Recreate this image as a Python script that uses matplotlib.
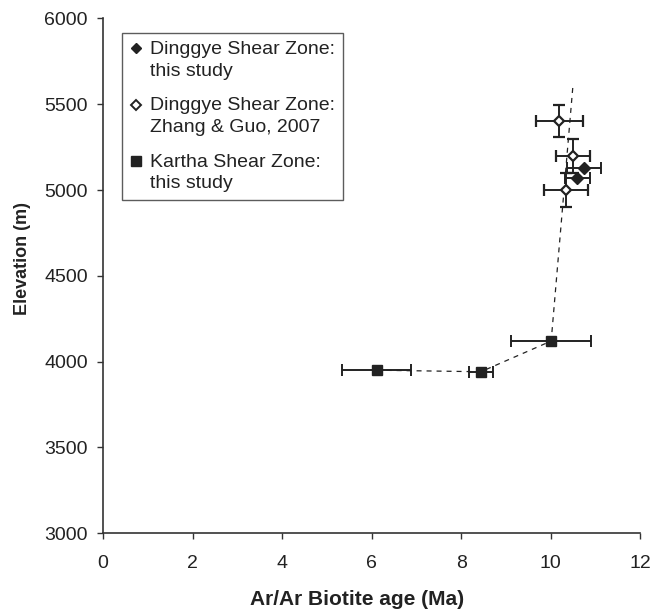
import numpy as np
from matplotlib import pyplot as plt
from matplotlib.lines import Line2D
from matplotlib.legend_handler import HandlerLine2D

plt.rcParams['font.family'] = ['Liberation Sans', 'DejaVu Sans']

# Dinggye Shear Zone, this study
dsz_age = [10.74, 10.59]
dsz_age_err = [0.38, 0.28]
dsz_elev = [5128, 5073]

# Dinggye Shear Zone, Zhang & Guo 2007
zg_age = [10.19, 10.49, 10.34]
zg_age_err = [0.52, 0.38, 0.50]
zg_elev = [5403, 5200, 5000]
zg_elev_err = [95, 100, 100]

# Kartha Shear Zone, this study
ksz_age = [6.11, 8.44, 10.01]
ksz_age_err = [0.78, 0.27, 0.90]
ksz_elev = [3950, 3941, 4120]

# dashed trend line
trend_age = [6.11, 8.44, 10.01, 10.50]
trend_elev = [3950, 3941, 4120, 5620]

dark = '#222222'


class FirstLineHandler(HandlerLine2D):
    # put the legend marker beside the first line of a two-line label
    def create_artists(self, legend, orig_handle, xdescent, ydescent,
                       width, height, fontsize, trans):
        return super().create_artists(legend, orig_handle, xdescent,
                                      ydescent - 1.2 * fontsize, width, height,
                                      fontsize, trans)


fig = plt.figure(figsize=(6.52, 6.15), dpi=100)
ax = fig.add_axes([0.158, 0.133, 0.824, 0.837])

ax.plot(trend_age, trend_elev, color=dark, linestyle=(0, (4, 4)), linewidth=0.9, zorder=1)

ax.errorbar(ksz_age, ksz_elev, xerr=ksz_age_err, fmt='s', color=dark, ms=7,
            ecolor=dark, elinewidth=1.4, capsize=4, capthick=1.4, zorder=3)
ax.errorbar(zg_age, zg_elev, xerr=zg_age_err, yerr=zg_elev_err, fmt='D', ms=5.2,
            markerfacecolor='white', markeredgecolor=dark, markeredgewidth=1.6,
            ecolor=dark, elinewidth=1.4, capsize=4, capthick=1.4, zorder=3)
ax.errorbar(dsz_age, dsz_elev, xerr=dsz_age_err, fmt='D', color=dark, ms=5.8,
            ecolor=dark, elinewidth=1.4, capsize=4, capthick=1.4, zorder=4)

ax.set_xlim(0, 12)
ax.set_ylim(3000, 6000)
ax.set_xticks(np.arange(0, 13, 2))
ax.set_yticks(np.arange(3000, 6001, 500))

for s in ['top', 'right']:
    ax.spines[s].set_visible(False)
for s in ['left', 'bottom']:
    ax.spines[s].set_color('#333333')
    ax.spines[s].set_linewidth(1.2)
ax.tick_params(axis='both', direction='out', length=4.5, width=1, color='#333333',
               labelsize=14, labelcolor=dark)
ax.tick_params(axis='x', pad=11)
ax.tick_params(axis='y', pad=6.5)

ax.set_xlabel('Ar/Ar Biotite age (Ma)', fontsize=15, fontweight='bold', color=dark)
ax.set_ylabel('Elevation (m)', fontsize=13, fontweight='bold', color=dark)
ax.xaxis.set_label_coords(0.4726, -0.111)
ax.yaxis.set_label_coords(-0.134, 0.533)

handles = [
    Line2D([], [], marker='D', linestyle='none', color=dark, ms=5.2),
    Line2D([], [], marker='D', linestyle='none', markerfacecolor='white',
           markeredgecolor=dark, markeredgewidth=1.4, ms=4.6),
    Line2D([], [], marker='s', linestyle='none', color=dark, ms=6.5),
]
labels = ['Dinggye Shear Zone:\nthis study',
          'Dinggye Shear Zone:\nZhang & Guo, 2007',
          'Kartha Shear Zone:\nthis study']
leg = ax.legend(handles, labels, loc='upper left', bbox_to_anchor=(0.035, 0.972),
                borderaxespad=0, fontsize=14, frameon=True, fancybox=False,
                handlelength=0.7, handletextpad=0.34, labelspacing=0.9,
                borderpad=0.4, edgecolor='#333333',
                handler_map={Line2D: FirstLineHandler()})
leg.get_frame().set_linewidth(1.0)
for t in leg.get_texts():
    t.set_color(dark)
    t.set_linespacing(1.38)

plt.savefig('out.png', dpi=100)
